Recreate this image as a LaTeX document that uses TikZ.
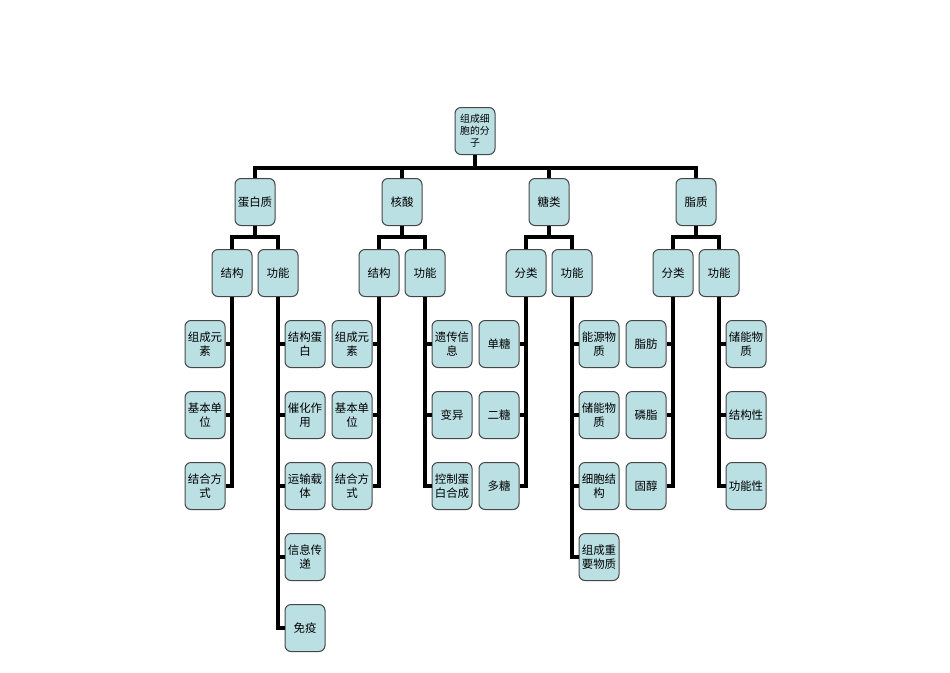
\documentclass[tikz,border=0pt]{standalone}
\usepackage{fontspec}
\setmainfont{Noto Sans CJK SC}
\usepackage{xcolor}
\usepackage{tikz}
\usetikzlibrary{positioning}
\definecolor{cellblue}{RGB}{187,224,228}
\definecolor{edgegray}{RGB}{70,70,70}

\begin{document}
\begin{tikzpicture}[
  x=0.75pt, y=-0.75pt,
  node distance=17.25pt and 79.5pt,
  box/.style={draw=edgegray, line width=0.75pt, rounded corners=4.5pt, fill=cellblue, align=center,
    minimum width=30pt, minimum height=35.25pt, text width=28pt, inner sep=1pt,
    font=\fontsize{8.6pt}{10.5pt}\selectfont},
  rootbox/.style={box, font=\fontsize{7.4pt}{9pt}\selectfont},
  conn/.style={line width=2.3pt, draw=black}
]
\useasboundingbox (0,0) rectangle (950,672);
\node[rootbox] (mol) at (475,131) {组成细\\胞的分\\子};
\node[box] (prot) at (255,202) {蛋白质};
\node[box, right=of prot] (nucl) {核酸};
\node[box, right=of nucl] (sugar) {糖类};
\node[box, right=of sugar] (lipid) {脂质};
% second level
\node[box, below=of prot, xshift=-17.25pt] (protS) {结构};
\node[box, below=of prot, xshift=17.25pt] (protF) {功能};
\node[box, below=of nucl, xshift=-17.25pt] (nuclS) {结构};
\node[box, below=of nucl, xshift=17.25pt] (nuclF) {功能};
\node[box, below=of sugar, xshift=-17.25pt] (sugarC) {分类};
\node[box, below=of sugar, xshift=17.25pt] (sugarF) {功能};
\node[box, below=of lipid, xshift=-17.25pt] (lipidC) {分类};
\node[box, below=of lipid, xshift=17.25pt] (lipidF) {功能};
% leaves
\node[box, below=of protS, xshift=-20.25pt] (protS1) {组成元\\素};
\node[box, below=of protS1] (protS2) {基本单\\位};
\node[box, below=of protS2] (protS3) {结合方\\式};
\node[box, below=of protF, xshift=20.25pt] (protF1) {结构蛋\\白};
\node[box, below=of protF1] (protF2) {催化作\\用};
\node[box, below=of protF2] (protF3) {运输载\\体};
\node[box, below=of protF3] (protF4) {信息传\\递};
\node[box, below=of protF4] (protF5) {免疫};
\node[box, below=of nuclS, xshift=-20.25pt] (nuclS1) {组成元\\素};
\node[box, below=of nuclS1] (nuclS2) {基本单\\位};
\node[box, below=of nuclS2] (nuclS3) {结合方\\式};
\node[box, below=of nuclF, xshift=20.25pt] (nuclF1) {遗传信\\息};
\node[box, below=of nuclF1] (nuclF2) {变异};
\node[box, below=of nuclF2] (nuclF3) {控制蛋\\白合成};
\node[box, below=of sugarC, xshift=-20.25pt] (sugarC1) {单糖};
\node[box, below=of sugarC1] (sugarC2) {二糖};
\node[box, below=of sugarC2] (sugarC3) {多糖};
\node[box, below=of sugarF, xshift=20.25pt] (sugarF1) {能源物\\质};
\node[box, below=of sugarF1] (sugarF2) {储能物\\质};
\node[box, below=of sugarF2] (sugarF3) {细胞结\\构};
\node[box, below=of sugarF3] (sugarF4) {组成重\\要物质};
\node[box, below=of lipidC, xshift=-20.25pt] (lipidC1) {脂肪};
\node[box, below=of lipidC1] (lipidC2) {磷脂};
\node[box, below=of lipidC2] (lipidC3) {固醇};
\node[box, below=of lipidF, xshift=20.25pt] (lipidF1) {储能物\\质};
\node[box, below=of lipidF1] (lipidF2) {结构性};
\node[box, below=of lipidF2] (lipidF3) {功能性};
% connectors
\draw[conn] (mol.south) -- ++(0,13) -| (prot.north); \draw[conn] (mol.south) -- ++(0,13) -| (nucl.north);
\draw[conn] (mol.south) -- ++(0,13) -| (sugar.north); \draw[conn] (mol.south) -- ++(0,13) -| (lipid.north);
\draw[conn] (prot.south) -- ++(0,11) -| (protS.north); \draw[conn] (prot.south) -- ++(0,11) -| (protF.north);
\draw[conn] (nucl.south) -- ++(0,11) -| (nuclS.north); \draw[conn] (nucl.south) -- ++(0,11) -| (nuclF.north);
\draw[conn] (sugar.south) -- ++(0,11) -| (sugarC.north); \draw[conn] (sugar.south) -- ++(0,11) -| (sugarF.north);
\draw[conn] (lipid.south) -- ++(0,11) -| (lipidC.north); \draw[conn] (lipid.south) -- ++(0,11) -| (lipidF.north);
\draw[conn] (protS.south) |- (protS1.east); \draw[conn] (protS.south) |- (protS2.east); \draw[conn] (protS.south) |- (protS3.east);
\draw[conn] (protF.south) |- (protF1.west); \draw[conn] (protF.south) |- (protF2.west); \draw[conn] (protF.south) |- (protF3.west);
\draw[conn] (protF.south) |- (protF4.west); \draw[conn] (protF.south) |- (protF5.west);
\draw[conn] (nuclS.south) |- (nuclS1.east); \draw[conn] (nuclS.south) |- (nuclS2.east); \draw[conn] (nuclS.south) |- (nuclS3.east);
\draw[conn] (nuclF.south) |- (nuclF1.west); \draw[conn] (nuclF.south) |- (nuclF2.west); \draw[conn] (nuclF.south) |- (nuclF3.west);
\draw[conn] (sugarC.south) |- (sugarC1.east); \draw[conn] (sugarC.south) |- (sugarC2.east); \draw[conn] (sugarC.south) |- (sugarC3.east);
\draw[conn] (sugarF.south) |- (sugarF1.west); \draw[conn] (sugarF.south) |- (sugarF2.west); \draw[conn] (sugarF.south) |- (sugarF3.west);
\draw[conn] (sugarF.south) |- (sugarF4.west);
\draw[conn] (lipidC.south) |- (lipidC1.east); \draw[conn] (lipidC.south) |- (lipidC2.east); \draw[conn] (lipidC.south) |- (lipidC3.east);
\draw[conn] (lipidF.south) |- (lipidF1.west); \draw[conn] (lipidF.south) |- (lipidF2.west); \draw[conn] (lipidF.south) |- (lipidF3.west);
\end{tikzpicture}
\end{document}
